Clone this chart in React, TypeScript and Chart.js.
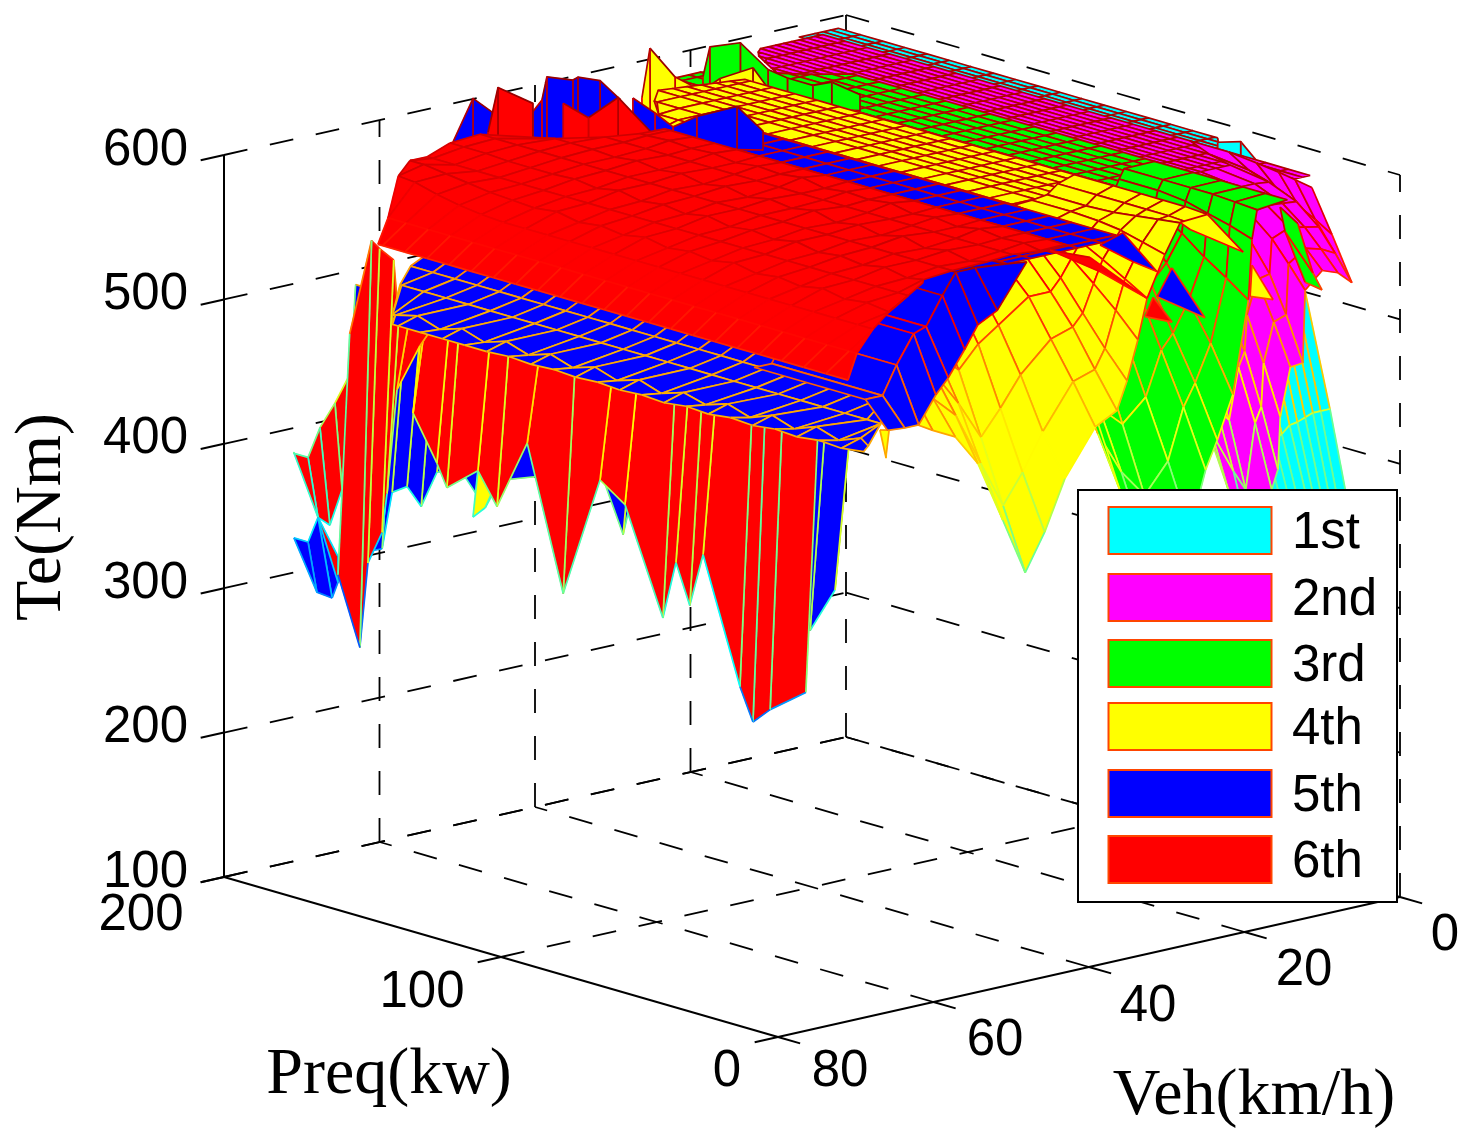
import { useEffect, useRef } from "react";
import { Chart, registerables } from "chart.js";

Chart.register(...registerables);

// ---------- axis values ----------
const teTicks = [100, 200, 300, 400, 500, 600];
const vehTicks = [0, 20, 40, 60, 80];
const preqTicks = [0, 100, 200];
const gearNames = ["1st", "2nd", "3rd", "4th", "5th", "6th"];
const gearColors = ["#00ffff", "#ff00ff", "#00ff00", "#ffff00", "#0000ff", "#ff0000"];
const [CYAN, MAGENTA, GREEN, YELLOW, BLUE, RED] = gearColors;

// shared Preq columns (kW) for the flat torque plateaus
const preqGrid = [0, 8, 16, 24, 32, 40, 48, 56, 64, 72, 80, 88, 96, 104, 112, 120, 128, 136, 144, 152, 160, 168, 176, 184, 192, 200];

// ---------- 1st gear ----------
const firstTopVeh = [1, 2, 3, 4, 6];
const firstTopLow = [63, 60, 55, 50, 45];
const firstTopHigh = [206, 206, 206, 206, 206];
const firstTopTe = [592, 592, 592, 592, 592];
const firstPeakVeh = [1, 1];
const firstPeakPreq = [[63, 54.7, 47.8], [63, 54.7, 47.8]];
const firstPeakTe = [[589, 594, 582], [570, 574, 582]];
const firstFallVeh = [5.8, 7, 8, 9, 10, 11, 12, 13, 14, 15, 16, 17];
const firstFallEdge = [0, 0, 0, 0, 0, 0, 0, 0, 0, 0, 0, 0];
const firstFallStep = [0, 9, 18, 40];
const firstFallTe = [
  [354, 440, 517, 585], [355, 440, 517, 585], [357, 440, 517, 585], [360, 438, 515, 585],
  [362, 436, 512, 585], [367, 435, 510, 585], [365, 430, 505, 585], [364, 428, 500, 585],
  [364, 425, 495, 585], [368, 425, 490, 585], [375, 425, 485, 585], [382, 425, 480, 585],
];

// ---------- 2nd gear ----------
const secondTopVeh = [3, 4, 5, 6, 7, 8, 9, 10, 11, 12, 13, 14, 15, 16, 17, 18, 19];
const secondTopLow = [24, 24, 24, 24, 24, 28, 30, 36, 40, 40, 40, 40, 40, 40, 40, 40, 40];
const secondTopHigh = [205, 205, 205, 205, 205, 205, 205, 203, 200, 198, 195, 190, 185, 180, 175, 170, 165];
const secondTopTe = [590, 590, 590, 590, 590, 590, 590, 590, 590, 590, 590, 590, 590, 590, 590, 590, 590];
const secondFallVeh = [3, 5, 6.2, 8, 10, 12.2, 12.5, 14.1, 15.4, 15.7, 16.5, 17.7, 19.3, 22.1, 24];
const secondFallEdge = [23.4, 10.5, 0, 0, 0, 0, 0, 0, 0, 0, 0, 0, 0, 0, 0];
const secondFallStep = [0, 6, 12, 20, 30, 44];
const secondFallTe = [
  [582, 584, 586, 588, 590, 590], [559, 566, 572, 580, 587, 590], [533, 550, 565, 578, 586, 590],
  [542, 555, 567, 579, 587, 590], [546, 558, 569, 580, 587, 590], [535, 550, 564, 577, 586, 590],
  [485, 515, 540, 562, 580, 590], [484, 512, 538, 560, 580, 590], [451, 485, 515, 545, 575, 590],
  [415, 455, 490, 525, 565, 590], [402, 445, 480, 520, 562, 590], [355, 400, 445, 490, 550, 588],
  [371, 415, 455, 500, 550, 588], [409, 445, 480, 520, 560, 588], [441, 470, 500, 530, 565, 588],
];

// ---------- 3rd gear ----------
const thirdTopVeh = [10, 11.5, 13, 14.5, 16, 17.5, 19, 20.5, 22, 24, 26];
const thirdTopLow = [30, 30, 30, 36, 40, 40, 40, 40, 40, 40, 40];
const thirdTopHigh = [170, 173, 176, 180, 185, 188, 192, 195, 195, 195, 195];
const thirdTopTe = [588, 588, 588, 588, 588, 588, 588, 588, 588, 588, 588];
const thirdRidgeVeh = [20, 20];
const thirdRidgePreq = [[195.5, 193, 182, 172, 165, 155.8, 149, 138.8], [195.5, 193, 182, 172, 165, 155.8, 149, 138.8]];
const thirdRidgeTe = [[584, 606, 615, 602, 600, 600, 606, 603], [561, 562, 568, 574, 578, 583, 587, 592]];
const thirdFallVeh = [10, 14, 17, 19.5, 21.5, 23.5, 25, 27, 30, 33, 36, 39];
const thirdFallEdge = [12.6, 12.3, 5.7, 0, 0, 0, 0, 0, 0, 0, 0, 0];
const thirdFallStep = [0, 8, 16, 24, 34, 48];
const thirdFallTe = [
  [588, 588, 588, 588, 588, 588], [586, 587, 588, 588, 588, 588], [573, 578, 582, 586, 588, 588],
  [537, 548, 558, 570, 582, 588], [474, 505, 530, 552, 575, 588], [445, 480, 510, 540, 570, 588],
  [426, 465, 500, 535, 568, 588], [387, 430, 470, 510, 555, 586], [363, 410, 455, 500, 550, 585],
  [387, 430, 470, 510, 555, 586], [425, 460, 495, 530, 565, 587], [478, 505, 530, 552, 575, 587],
];
const thirdFringeVeh = [8, 12];
const thirdFringePreq = [[14.4, 9, 5.7], [9.6, 7.8, 0.6]];
const thirdFringeTe = [[568, 537, 527], [587, 571, 540]];

// ---------- 4th gear ----------
const fourthTopVeh = [18, 19.5, 21, 22.5, 24, 25.5, 27, 30, 33, 36, 39];
const fourthTopLow = [40, 40, 40, 40, 40, 40, 40, 40, 40, 40, 40];
const fourthTopHigh = [186, 187, 188, 189, 190, 191, 192, 185, 175, 165, 155];
const fourthTopTe = [585, 585, 585, 585, 585, 585, 585, 585, 585, 585, 585];
const fourthRidgeVeh = [25, 30];
const fourthRidgePreq = [[203.5, 200.6, 191.5, 181.8, 175.3, 163.4, 154.7], [189.4, 186.5, 177.5, 167.8, 161.3, 149.4, 140.7]];
const fourthRidgeTe = [[571, 607, 592, 588, 600, 614, 596], [559, 561, 566, 571, 575, 581, 586]];
const fourthFallVeh = [18, 21.5, 25, 27.5, 30, 32, 34, 36.4, 39.2, 43.1, 45.7, 48.2, 51.1, 54.3, 57.2, 60.1, 62];
const fourthFallEdge = [19, 15.2, 9.2, 7.7, 7.1, 4.8, 3.1, 0, 0, 0, 0, 0, 0, 0, 0, 0, 0];
const fourthFallStep = [0, 8, 16, 24, 34, 48];
const fourthFallTe = [
  [584, 585, 585, 585, 585, 585], [584, 585, 585, 585, 585, 585], [592, 590, 588, 586, 585, 585],
  [574, 578, 582, 584, 585, 585], [547, 556, 565, 573, 582, 585], [522, 538, 552, 565, 578, 585],
  [497, 515, 535, 555, 575, 585], [481, 505, 530, 550, 572, 583], [473, 500, 525, 550, 570, 582],
  [442, 470, 505, 535, 565, 580], [408, 445, 485, 525, 560, 578], [383, 425, 468, 510, 550, 578],
  [423, 458, 495, 525, 558, 578], [466, 495, 520, 545, 568, 580], [488, 510, 530, 550, 570, 580],
  [496, 520, 540, 558, 575, 582], [502, 530, 550, 565, 578, 583],
];
const fourthStripVeh = [14, 18];
const fourthStripPreq = [[36.5, 17.3], [28.9, 19]];
const fourthStripTe = [[559, 554], [573, 584]];
const fourthScrapVeh = [14, 17];
const fourthScrapPreq = [[6.5, 6.5], [5.7, 6.4]];
const fourthScrapTe = [[527, 527], [555, 533]];
const fourthTipVeh = [65, 66];
const fourthTipPreq = [[2, 3], [2.5, 0.3]];
const fourthTipTe = [[501, 484], [502, 484]];
const fourthCurtainVeh = [67, 67];
const fourthCurtainPreq = [[146.6, 144.8], [142.2, 139.7]];
const fourthCurtainTe = [[363, 397], [372, 384]];

// ---------- 5th gear ----------
const fifthTopVeh = [28, 31, 34, 37, 40, 43];
const fifthTopLow = [21.4, 21, 21, 21, 21, 21];
const fifthTopHigh = [151, 158, 165, 170, 175, 180];
const fifthTopTe = [579, 579, 579, 579, 579, 579];
const fifthRidgeAVeh = [50, 50];
const fifthRidgeAPreq = [[201.5, 194.3, 181], [201.5, 194.3, 181]];
const fifthRidgeATe = [[572, 606, 595], [566, 570, 578]];
const fifthRidgeBVeh = [40, 40];
const fifthRidgeBPreq = [[201.8, 197.5, 195.7, 186.3, 184.5, 176.5, 169.3], [201.8, 197.5, 195.7, 186.3, 184.5, 176.5, 169.3]];
const fifthRidgeBTe = [[578, 591, 608, 611, 614, 616, 607], [554, 556, 557, 563, 564, 568, 572]];
const fifthRidgeCVeh = [34, 34];
const fifthRidgeCPreq = [[181.5, 173.5, 167, 158.4, 143.9, 134.5], [181.5, 173.5, 167, 158.4, 143.9, 134.5]];
const fifthRidgeCTe = [[594, 588, 582, 594, 609, 597], [558, 562, 566, 571, 579, 584]];
const fifthTailVeh = [28, 24];
const fifthTailPreq = [[29.7, 21.4], [29, 20.4]];
const fifthTailTe = [[569, 582], [553, 551]];
const fifthChipVeh = [26, 22];
const fifthChipPreq = [[14.7, 9.3], [8.7, 8.7]];
const fifthChipTe = [[539, 562], [523, 523]];
const fifthFanVeh = [48, 51.8, 54.3, 56, 58.1, 59.7, 61.9, 63.7, 65.9];
const fifthFanPreq = [0, 8, 48];
const fifthFanTe = [
  [598, 592, 592], [569, 594, 594], [562, 594, 594], [547, 580, 580], [530, 561, 561],
  [520, 558, 558], [502, 539, 539], [502, 520, 520], [503, 520, 520],
];
const fifthCurtainVeh = [65, 67];
const fifthCurtainPreq = [
  [194.6, 179.4, 175.8, 170.4, 165.3, 159.6, 151, 142.2, 136.8, 100.7, 92.4, 90.6, 64.6, 24.9, 15.9, 13],
  [194.6, 179.4, 175.8, 170.4, 165.3, 159.6, 151, 142.2, 136.8, 100.7, 92.4, 90.6, 64.6, 24.9, 15.9, 13],
];
const fifthCurtainTe = [
  [495, 495, 495, 495, 495, 495, 495, 495, 495, 495, 495, 495, 495, 495, 495, 495],
  [309, 323, 364, 371, 360, 387, 393, 372, 394, 421, 381, 397, 420, 352, 385, 479],
];
const fifthFootVeh = [75, 75];
const fifthFootPreq = [[188.8, 183.7, 180.1, 172.9], [188.8, 180.5, 175, 172.9]];
const fifthFootTe = [[335, 335, 354, 328], [335, 302, 301, 313]];
const fifthBandVeh = [50, 56, 60, 66.5, 69];
const fifthBandLow = [45, 29.8, 19, 5.3, 0];
const fifthBandHigh = [200, 200, 192.6, 177, 170];
const fifthBandTe = [
  510,
  494,
  490,
  [490, 494, 488, 493, 487, 492, 486, 491, 486, 490, 485, 490, 485, 490, 485, 490, 485, 490, 485, 490, 485, 490, 486, 486, 486, 486],
  [492, 490, 491, 489, 490, 488, 489, 487, 488, 486, 487, 486, 487, 486, 487, 486, 487, 486, 486, 486, 486, 486, 486, 486, 486, 486],
];

// ---------- 6th gear ----------
const sixthTopVeh = [34, 37, 40, 44, 48, 52, 56, 60, 64, 68, 71];
const sixthTopLow = [25.5, 26.1, 27.8, 25.6, 27, 26.2, 20.4, 15.7, 10.6, 5.2, 0];
const sixthTopHigh = [170, 170.5, 174.7, 181.5, 197.4, 197, 194, 189, 182, 174.5, 169.7];
const sixthTopTe = [
  579,
  [579, 579, 580, 578, 580, 579, 581, 578, 580, 578, 581, 579, 580, 578, 581, 579, 580, 578, 580, 579, 580, 579, 579, 579, 579, 579],
  578,
  [578, 578, 576, 579, 576, 579, 576, 580, 576, 579, 576, 580, 577, 579, 576, 579, 576, 579, 577, 579, 577, 578, 578, 578, 578, 578],
  577,
  [575, 575, 574, 576, 574, 577, 574, 576, 574, 577, 574, 576, 574, 577, 574, 576, 574, 577, 574, 576, 575, 575, 575, 576, 576, 576],
  573,
  [570, 570, 569, 571, 569, 572, 569, 571, 569, 572, 569, 571, 569, 572, 569, 571, 569, 572, 570, 571, 572, 574, 576, 578, 578, 578],
  [565, 565, 565, 565, 565, 565, 565, 565, 565, 565, 565, 565, 565, 565, 565, 565, 565, 565, 565, 566, 568, 571, 575, 576, 576, 576],
  556,
  544,
];
const sixthRidgeAVeh = [48, 48];
const sixthRidgeAPreq = [[194.5, 190.9, 178.3], [194.5, 190.9, 178.3]];
const sixthRidgeATe = [[580, 613, 609], [575, 577, 584]];
const sixthRidgeBVeh = [40, 40];
const sixthRidgeBPreq = [[189.8, 180.7, 170, 157], [189.8, 180.7, 170, 157]];
const sixthRidgeBTe = [[593, 588, 608, 589], [564, 569, 575, 582]];
const sixthCurtainVeh = [70.5, 72];
const sixthCurtainPreq = [
  [181.3, 173.4, 170.5, 165.4, 163.6, 160, 151.7, 154.2, 145.6, 142, 130.8, 123.9, 113, 100, 86.7, 77.7, 64, 59.3, 54.3, 49.5, 36.2, 31.5, 25.3, 12.4],
  [181.3, 173.4, 170.5, 165.4, 163.6, 160, 151.7, 154.2, 145.6, 142, 130.8, 123.9, 113, 100, 86.7, 77.7, 64, 59.3, 54.3, 49.5, 36.2, 31.5, 25.3, 12.4],
];
const sixthCurtainTe = [
  [475, 544, 540, 535, 495, 495, 495, 495, 495, 495, 495, 495, 495, 495, 495, 495, 495, 495, 495, 495, 495, 495, 495, 495],
  [310, 264, 324, 348, 376, 450, 485, 437, 407, 392, 410, 389, 439, 342, 428, 416, 345, 386, 359, 397, 313, 291, 303, 322],
];
const sixthWingVeh = [73, 75];
const sixthWingPreq = [[194.4, 189.3, 185, 179.6, 174.9, 170.5], [188.8, 180.1, 175.8, 171.4, 168.5, 167.8]];
const sixthWingTe = [[388, 388, 411, 431, 451, 485], [394, 354, 351, 378, 407, 428]];
const sixthWedgeVeh = [75, 75];
const sixthWedgePreq = [[180.1, 172.9], [180.1, 172.9]];
const sixthWedgeTe = [[354, 331], [354, 313]];
const sixthTailVeh = [34, 30];
const sixthTailPreq = [[30.9, 16.5], [24, 7.1]];
const sixthTailTe = [[572, 575], [556, 547]];
const sixthTipVeh = [30, 28];
const sixthTipPreq = [[7.8, 4.9], [3.7, 3.7]];
const sixthTipTe = [[534, 549], [530, 530]];

// ---------- projection of (Veh, Preq, Te) onto the chart's linear scales ----------
const project = (veh: number, preq: number, te: number) => ({
  x: 778 - 2.77 * preq + 7.775 * (80 - veh),
  y: 1037 - 0.8 * preq - 1.75 * (80 - veh) - 1.444 * (te - 100),
  te,
});

const clamp01 = (v: number) => Math.max(0, Math.min(1, v));
const jet = (te: number) => {
  const t = clamp01((Math.min(te, 600) - 200) / 410);
  const r = clamp01(1.5 - Math.abs(4 * t - 3));
  const g = clamp01(1.5 - Math.abs(4 * t - 2));
  const b = clamp01(1.5 - Math.abs(4 * t - 1));
  return `rgb(${Math.round(r * 255)},${Math.round(g * 255)},${Math.round(b * 255)})`;
};

type Vertex = { x: number; y: number; te: number };

const quadsFrom = (color: string, rows: Vertex[][], q: number[][]) => {
  const out: any[] = [];
  for (let j = 0; j < rows.length - 1; j++) {
    for (let i = rows[j].length - 2; i >= 0; i--) {
      if (q[j][i] === q[j][i + 1] && q[j + 1][i] === q[j + 1][i + 1]) continue;
      const pts = [rows[j][i], rows[j][i + 1], rows[j + 1][i + 1], rows[j + 1][i], rows[j][i]];
      // the cell's face
      out.push({
        data: pts,
        parsing: false,
        showLine: true,
        fill: "shape",
        backgroundColor: color,
        borderColor: color,
        borderWidth: 0.5,
        pointRadius: 0,
        tension: 0,
        clip: false,
      });
      // the cell's edges, coloured by torque
      out.push({
        data: pts,
        parsing: false,
        showLine: true,
        fill: false,
        borderColor: jet(pts[0].te),
        borderWidth: 1.7,
        borderJoinStyle: "round",
        pointRadius: 0,
        tension: 0,
        clip: false,
        segment: {
          borderColor: (ctx: any) => jet((pts[ctx.p0DataIndex].te + pts[ctx.p1DataIndex].te) / 2),
        },
      });
    }
  }
  return out;
};

const cell = (t: any, i: number) => (Array.isArray(t) ? t[i] : t);

// rows of constant Veh over the shared Preq columns, held inside each row's own Preq range
const plateau = (color: string, veh: number[], low: number[], high: number[], te: any[], cols = preqGrid) => {
  const q = veh.map((_, j) => cols.map((c) => Math.min(Math.max(c, low[j]), high[j])));
  const rows = veh.map((v, j) => cols.map((_, i) => project(v, q[j][i], cell(te[j], i))));
  return quadsFrom(color, rows, q);
};
// rows of constant Veh whose Preq starts at the row's own edge
const falloff = (color: string, veh: number[], edge: number[], step: number[], te: number[][]) => {
  const q = veh.map((_, j) => step.map((s) => edge[j] + s));
  const rows = veh.map((v, j) => step.map((_, i) => project(v, q[j][i], te[j][i])));
  return quadsFrom(color, rows, q);
};
// explicit Preq for every vertex
const patch = (color: string, veh: number[], preq: number[][], te: number[][]) => {
  const rows = veh.map((v, j) => preq[j].map((p, i) => project(v, p, te[j][i])));
  return quadsFrom(color, rows, preq);
};
const fixedCols = (color: string, veh: number[], cols: number[], te: number[][]) =>
  patch(color, veh, veh.map(() => cols), te);

const line = (a: number[], b: number[], dashed: boolean) => ({
  data: [project(a[0], a[1], a[2]), project(b[0], b[1], b[2])],
  parsing: false,
  showLine: true,
  fill: false,
  borderColor: "#000",
  borderWidth: dashed ? 1.8 : 2,
  borderDash: dashed ? [24, 23] : [],
  pointRadius: 0,
  clip: false,
});

const frame = () => {
  const out: any[] = [];
  const teMin = teTicks[0];
  const teMax = teTicks[teTicks.length - 1];
  const vFront = vehTicks[vehTicks.length - 1];
  const pFar = preqTicks[preqTicks.length - 1];
  // walls: torque levels
  teTicks.forEach((t) => {
    out.push(line([vFront, pFar, t], [0, pFar, t], true));
    out.push(line([0, pFar, t], [0, 0, t], true));
    out.push(line([vFront + 3, pFar, t], [vFront, pFar, t], false));
  });
  // verticals on the far walls
  vehTicks.slice(0, -1).forEach((v) => out.push(line([v, pFar, teMin], [v, pFar, teMax], true)));
  out.push(line([0, 0, teMin], [0, 0, teMax], true));
  // floor
  vehTicks.forEach((v) => {
    if (v !== vFront) out.push(line([v, 0, teMin], [v, pFar, teMin], true));
    out.push(line([v, -8, teMin], [v, 0, teMin], false));
  });
  preqTicks.forEach((p) => {
    if (p !== 0) out.push(line([vFront, p, teMin], [0, p, teMin], true));
    out.push(line([vFront + 3, p, teMin], [vFront, p, teMin], false));
  });
  // solid axes
  out.push(line([vFront, pFar, teMin], [vFront, pFar, teMax], false));
  out.push(line([vFront, 0, teMin], [vFront, pFar, teMin], false));
  out.push(line([vFront, 0, teMin], [0, 0, teMin], false));
  return out;
};

const surfaces = () => [
  ...plateau(CYAN, firstTopVeh, firstTopLow, firstTopHigh, firstTopTe),
  ...patch(CYAN, firstPeakVeh, firstPeakPreq, firstPeakTe),
  ...falloff(CYAN, firstFallVeh, firstFallEdge, firstFallStep, firstFallTe),

  ...plateau(MAGENTA, secondTopVeh, secondTopLow, secondTopHigh, secondTopTe),
  ...falloff(MAGENTA, secondFallVeh, secondFallEdge, secondFallStep, secondFallTe),

  ...plateau(GREEN, thirdTopVeh, thirdTopLow, thirdTopHigh, thirdTopTe),
  ...patch(GREEN, thirdRidgeVeh, thirdRidgePreq, thirdRidgeTe),
  ...falloff(GREEN, thirdFallVeh, thirdFallEdge, thirdFallStep, thirdFallTe),
  ...patch(GREEN, thirdFringeVeh, thirdFringePreq, thirdFringeTe),

  ...patch(YELLOW, fourthRidgeVeh, fourthRidgePreq, fourthRidgeTe),
  ...plateau(YELLOW, fourthTopVeh, fourthTopLow, fourthTopHigh, fourthTopTe),
  ...falloff(YELLOW, fourthFallVeh, fourthFallEdge, fourthFallStep, fourthFallTe),
  ...patch(YELLOW, fourthStripVeh, fourthStripPreq, fourthStripTe),
  ...patch(YELLOW, fourthScrapVeh, fourthScrapPreq, fourthScrapTe),
  ...patch(YELLOW, fourthTipVeh, fourthTipPreq, fourthTipTe),

  ...plateau(BLUE, fifthTopVeh, fifthTopLow, fifthTopHigh, fifthTopTe),
  ...patch(BLUE, fifthRidgeAVeh, fifthRidgeAPreq, fifthRidgeATe),
  ...patch(BLUE, fifthRidgeBVeh, fifthRidgeBPreq, fifthRidgeBTe),
  ...patch(BLUE, fifthRidgeCVeh, fifthRidgeCPreq, fifthRidgeCTe),
  ...patch(BLUE, fifthTailVeh, fifthTailPreq, fifthTailTe),
  ...patch(BLUE, fifthChipVeh, fifthChipPreq, fifthChipTe),
  ...patch(BLUE, fifthCurtainVeh, fifthCurtainPreq, fifthCurtainTe),
  ...patch(BLUE, fifthFootVeh, fifthFootPreq, fifthFootTe),

  ...patch(YELLOW, fourthCurtainVeh, fourthCurtainPreq, fourthCurtainTe),

  ...patch(RED, sixthWingVeh, sixthWingPreq, sixthWingTe),
  ...patch(RED, sixthWedgeVeh, sixthWedgePreq, sixthWedgeTe),
  ...patch(RED, sixthCurtainVeh, sixthCurtainPreq, sixthCurtainTe),

  ...plateau(BLUE, fifthBandVeh, fifthBandLow, fifthBandHigh, fifthBandTe),
  ...fixedCols(BLUE, fifthFanVeh, fifthFanPreq, fifthFanTe),

  ...patch(RED, sixthRidgeAVeh, sixthRidgeAPreq, sixthRidgeATe),
  ...patch(RED, sixthRidgeBVeh, sixthRidgeBPreq, sixthRidgeBTe),
  ...plateau(RED, sixthTopVeh, sixthTopLow, sixthTopHigh, sixthTopTe),
  ...patch(RED, sixthTailVeh, sixthTailPreq, sixthTailTe),
  ...patch(RED, sixthTipVeh, sixthTipPreq, sixthTipTe),
];

const SANS = '"Liberation Sans", Arial, sans-serif';
const SERIF = '"Liberation Serif", "Times New Roman", serif';

const labelsPlugin = {
  id: "labels3d",
  afterDraw(chart: any) {
    const { ctx } = chart;
    const sx = (v: number) => chart.scales.x.getPixelForValue(v);
    const sy = (v: number) => chart.scales.y.getPixelForValue(v);
    ctx.save();
    ctx.fillStyle = "#000";
    ctx.textBaseline = "middle";

    ctx.font = `51px ${SANS}`;
    ctx.textAlign = "right";
    const teY = [873, 728, 584, 439, 295, 151];
    teTicks.forEach((t, i) => ctx.fillText(String(t), sx(188), sy(teY[i])));

    ctx.textAlign = "center";
    const preqPos = [[727, 1072], [422, 993], [141, 916]];
    preqTicks.forEach((p, i) => ctx.fillText(String(p), sx(preqPos[i][0]), sy(preqPos[i][1])));
    const vehPos = [[1445, 936], [1304, 971], [1148, 1007], [995, 1041], [840, 1072]];
    vehTicks.forEach((v, i) => ctx.fillText(String(v), sx(vehPos[i][0]), sy(vehPos[i][1])));

    ctx.font = `66px ${SERIF}`;
    ctx.fillText("Preq(kw)", sx(389), sy(1076));
    ctx.fillText("Veh(km/h)", sx(1254), sy(1097));
    ctx.save();
    ctx.translate(sx(43), sy(517));
    ctx.rotate(-Math.PI / 2);
    ctx.fillText("Te(Nm)", 0, 0);
    ctx.restore();

    // legend
    ctx.fillStyle = "#fff";
    ctx.fillRect(sx(1078), sy(490), 319, 412);
    ctx.strokeStyle = "#000";
    ctx.lineWidth = 2;
    ctx.strokeRect(sx(1078), sy(490), 319, 412);
    const rowTop = [507, 574, 640, 703, 770, 836];
    gearNames.forEach((name, i) => {
      ctx.fillStyle = gearColors[i];
      ctx.fillRect(sx(1108.5), sy(rowTop[i]), 163, 47);
      ctx.strokeStyle = "#ff4500";
      ctx.lineWidth = 2;
      ctx.strokeRect(sx(1108.5), sy(rowTop[i]), 163, 47);
      ctx.fillStyle = "#000";
      ctx.font = `51px ${SANS}`;
      ctx.textAlign = "left";
      ctx.fillText(name, sx(1292), sy(rowTop[i] + 27));
    });
    ctx.restore();
  },
};

export default function App() {
  const ref = useRef<HTMLCanvasElement | null>(null);
  useEffect(() => {
    document.body.style.margin = "0";
    const datasets = [...frame(), ...surfaces()].reverse();
    const chart = new Chart(ref.current as HTMLCanvasElement, {
      type: "scatter",
      data: { datasets } as any,
      options: {
        responsive: false,
        animation: false,
        events: [],
        layout: { padding: 0 },
        normalized: false,
        plugins: { legend: { display: false }, tooltip: { enabled: false }, title: { display: false } },
        scales: {
          x: { type: "linear", min: 0, max: 1471, display: false },
          y: { type: "linear", min: 0, max: 1144, reverse: true, display: false },
        },
      } as any,
      plugins: [labelsPlugin],
    });
    return () => chart.destroy();
  }, []);
  return <canvas ref={ref} width={1471} height={1144} style={{ display: "block" }} />;
}
